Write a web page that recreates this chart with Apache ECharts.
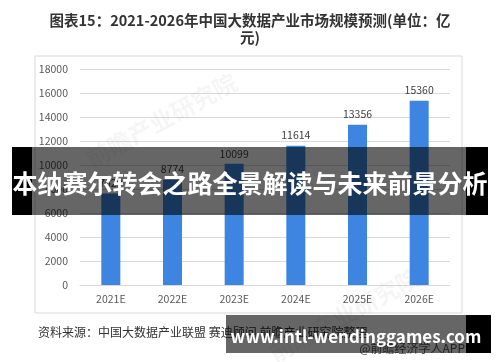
<!DOCTYPE html>
<html><head><meta charset="utf-8">
<script src="https://cdn.jsdelivr.net/npm/echarts@6/dist/echarts.min.js"></script>
<style>html,body{margin:0;padding:0;background:#fff}#c{width:500px;height:362px}</style>
</head><body><div id="c"></div>
<script>
const categories = ['2021E','2022E','2023E','2024E','2025E','2026E'];
const values = [7629, 8774, 10099, 11614, 13356, 15360];
const yTicks = [0, 2000, 4000, 6000, 8000, 10000, 12000, 14000, 16000, 18000];
const titleLine1 = '图表15：2021-2026年中国大数据产业市场规模预测(单位：亿';
const titleLine2 = '元)';
const sourceText = '资料来源：中国大数据产业联盟 赛迪顾问 前瞻产业研究院整理';
const creditText = '@前瞻经济学人APP';
const bannerText = '本纳赛尔转会之路全景解读与未来前景分析';
const urlText = 'www.intl-wendinggames.com';
const watermark = '前瞻产业研究院';

const F = '"Noto Sans CJK SC","Noto Sans",sans-serif';
const chart = echarts.init(document.getElementById('c'), null, {renderer:'canvas'});
chart.setOption({
  animation:false,
  grid:{left:80,right:50,top:69,bottom:77},
  xAxis:{type:'category',data:categories,
    axisLine:{lineStyle:{color:'#d9d9d9'}},axisTick:{show:false},
    axisLabel:{fontFamily:F,fontSize:10.5,color:'#595959',margin:9}},
  yAxis:{type:'value',min:yTicks[0],max:yTicks[yTicks.length-1],interval:2000,
    axisLine:{show:false},axisTick:{show:false},
    splitLine:{lineStyle:{color:'#d9d9d9'}},
    axisLabel:{fontFamily:F,fontSize:10.5,color:'#595959',margin:12,formatter:v=>String(v)}},
  series:[{type:'bar',data:values,barWidth:19,
    itemStyle:{color:'#3d85e0'},
    label:{show:true,position:'top',distance:5,fontFamily:F,fontSize:10.5,color:'#404040'}}],
  graphic:[
    {type:'text',x:250,y:20,style:{text:titleLine1,font:'bold 14.5px '+F,fill:'#333',align:'center',verticalAlign:'middle'}},
    {type:'text',x:250,y:37,style:{text:titleLine2,font:'bold 14.5px '+F,fill:'#333',align:'center',verticalAlign:'middle'}},
    {type:'rect',z:-1,shape:{x:35,y:56,width:427,height:257},style:{fill:'none',stroke:'#d9d9d9',lineWidth:1}},
    {type:'text',z:1,x:82,y:150,rotation:0.5,style:{text:watermark,font:'bold 24px '+F,fill:'rgba(0,0,0,0.04)'}},
    {type:'text',z:1,x:265,y:345,rotation:0.5,style:{text:watermark,font:'bold 24px '+F,fill:'rgba(0,0,0,0.04)'}},
    {type:'text',x:38,y:326,style:{text:sourceText,font:'12px '+F,fill:'#333'}},
    {type:'text',x:465,y:342,style:{text:creditText,font:'12px '+F,fill:'#555',align:'right'}},
    {type:'rect',z:50,shape:{x:12,y:147,width:20,height:68},style:{fill:'#000'}},
    {type:'rect',z:50,shape:{x:32,y:147,width:434,height:68},style:{fill:'rgba(0,0,0,0.6)'}},
    {type:'rect',z:50,shape:{x:466,y:147,width:22,height:68},style:{fill:'#000'}},
    {type:'text',z:51,x:250,y:183,style:{text:bannerText,font:'bold 25px '+F,fill:'#fff',align:'center',verticalAlign:'middle'}},
    {type:'rect',z:50,shape:{x:226,y:315,width:240,height:38},style:{fill:'rgba(0,0,0,0.6)'}},
    {type:'rect',z:50,shape:{x:466,y:315,width:25,height:38},style:{fill:'#000'}},
    {type:'text',z:51,x:356,y:337,style:{text:urlText,font:'bold 17px '+F,fill:'#fff',align:'center',verticalAlign:'middle'}}
  ]
});
</script></body></html>
